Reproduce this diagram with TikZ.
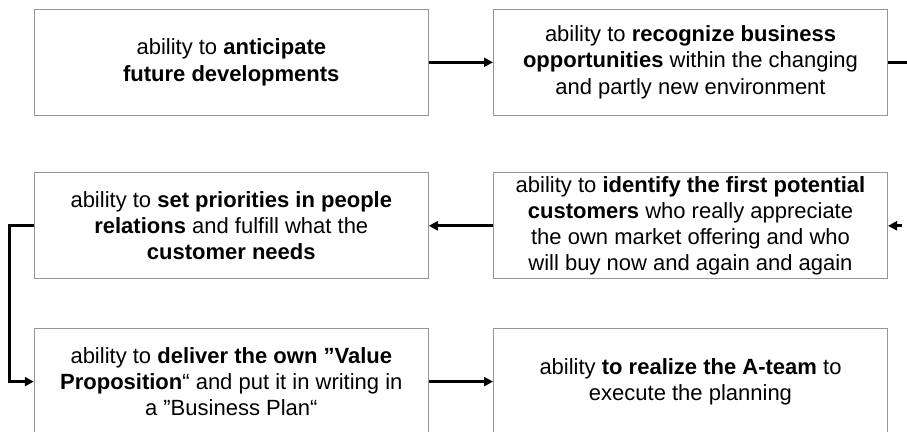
\documentclass[tikz,border=0pt]{standalone}
\usepackage{fontspec}
\setmainfont{Liberation Sans}
\usetikzlibrary{arrows.meta}
\definecolor{boxgray}{RGB}{150,150,150}
\tikzset{
  stepbox/.style={draw=boxgray, line width=1pt, minimum width=394pt, minimum height=106pt,
    align=center, inner sep=0pt, font=\fontsize{22}{26.3}\selectfont, text=black},
  flow/.style={line width=3pt, draw=black},
  arr/.style={flow, -{Triangle[length=9pt,width=9pt]}}
}
\begin{document}
\begin{tikzpicture}[x=1pt,y=-1pt]
\useasboundingbox (0,0) rectangle (907,431);
\clip (0,0) rectangle (907,431);
\fill[white] (0,0) rectangle (907,431);
\node[stepbox] (b1) at (231.3,62.3) {ability to \textbf{anticipate}\\ \textbf{future developments}};
\node[stepbox] (b2) at (690.5,62.3) {ability to \textbf{recognize business}\\ \textbf{opportunities} within the changing\\ and partly new environment};
\node[stepbox] (b3) at (231.3,225.8) {ability to \textbf{set priorities in people}\\ \textbf{relations} and fulfill what the\\ \textbf{customer needs}};
\node[stepbox] (b4) at (690.5,225.8) {ability to \textbf{identify the first potential}\\ \textbf{customers} who really appreciate\\ the own market offering and who\\ will buy now and again and again};
\node[stepbox] (b5) at (231.3,381.6) {ability to \textbf{deliver the own ”Value}\\ \textbf{Proposition}“ and put it in writing in\\ a ”Business Plan“};
\node[stepbox] (b6) at (690.5,381.6) {ability \textbf{to realize the A-team} to\\ execute the planning};
\coordinate (r1) at (912,62.3);
\coordinate (r2) at (902,225.8);
\coordinate (lx) at (9,0);
\draw[arr] (b1.east) -- (b2.west);
\draw[flow] (b2.east) -- (r1);
\draw[arr] (r2) -- (b4.east);
\draw[arr] (b4.west) -- (b3.east);
\draw[arr] (b3.west) -- (b3.west -| lx) |- (b5.west);
\draw[arr] (b5.east) -- (b6.west);
\end{tikzpicture}
\end{document}
